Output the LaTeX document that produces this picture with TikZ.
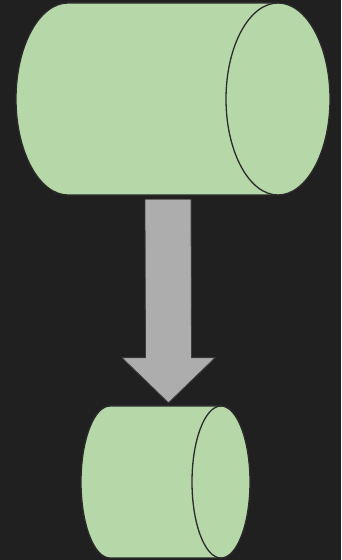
\documentclass[tikz,border=0pt]{standalone}
\usetikzlibrary{calc}
\definecolor{bgdark}{HTML}{202020}
\definecolor{cylfill}{HTML}{B6D7A8}
\definecolor{cylline}{HTML}{2B2B2B}
\definecolor{arrfill}{HTML}{ADADAD}
\definecolor{arrline}{HTML}{3C3C3C}
\tikzset{
  cylbody/.style={fill=cylfill, draw=cylline, line width=1.3pt, line join=round},
  cylrim/.style={draw=cylline, line width=1.3pt},
  blockarrow/.style={fill=arrfill, draw=arrline, line width=0.8pt, line join=miter},
}
\begin{document}
\begin{tikzpicture}[x=1pt,y=1pt]
  \fill[bgdark] (0,0) rectangle (341,560);
  \useasboundingbox (0,0) rectangle (341,560);

  % large horizontal cylinder (top)
  \node[inner sep=0, minimum width=315pt, minimum height=192pt] (big) at (173.5,461) {};
  \path[cylbody] (68,557) -- (278,557)
    arc[start angle=90, end angle=-90, x radius=52, y radius=96]
    -- (68,365)
    arc[start angle=270, end angle=90, x radius=52, y radius=96] -- cycle;
  \draw[cylrim] (278,557) arc[start angle=90, end angle=270, x radius=52, y radius=96];

  % small horizontal cylinder (bottom)
  \node[inner sep=0, minimum width=169pt, minimum height=152pt] (small) at (165.5,78) {};
  \path[cylbody] (110,154) -- (221,154)
    arc[start angle=90, end angle=-90, x radius=29, y radius=76]
    -- (110,2)
    arc[start angle=270, end angle=90, x radius=29, y radius=76] -- cycle;
  \draw[cylrim] (221,154) arc[start angle=90, end angle=270, x radius=29, y radius=76];

  % block arrow from the large cylinder down to the small one
  \coordinate (from) at ($(big.south)+(-5.5,-4)$);
  \coordinate (to) at ($(small.north)+(3,3)$);
  \path[blockarrow]
    ($(from)+(-23,0)$) -- ($(from)+(23,0)$)
    -- ($(to)+(23,45)$) -- ($(to)+(46.5,45)$)
    -- (to)
    -- ($(to)+(-46.5,45)$) -- ($(to)+(-23,45)$) -- cycle;
\end{tikzpicture}
\end{document}
